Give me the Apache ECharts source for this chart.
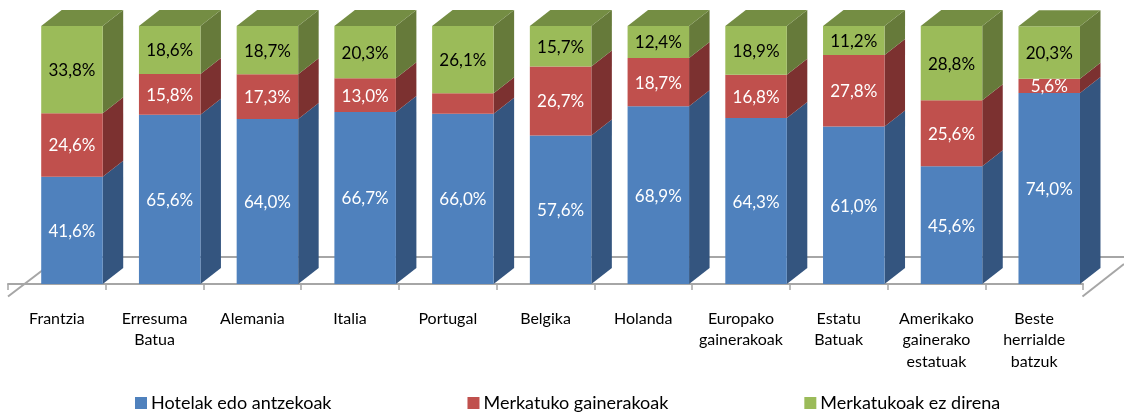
<!DOCTYPE html>
<html>
<head>
<meta charset="utf-8">
<style>html,body{margin:0;padding:0;background:#fff}#c{width:1124px;height:412px}</style>
<script src="https://cdn.jsdelivr.net/npm/echarts@6/dist/echarts.min.js"></script>
</head>
<body>
<div id="c"></div>
<script>
const categories = ['Frantzia','Erresuma\nBatua','Alemania','Italia','Portugal','Belgika','Holanda','Europako\ngainerakoak','Estatu\nBatuak','Amerikako\ngainerako\nestatuak','Beste\nherrialde\nbatzuk'];
const hotelak = [41.6,65.6,64.0,66.7,66.0,57.6,68.9,64.3,61.0,45.6,74.0];
const gainerakoak = [24.6,15.8,17.3,13.0,7.9,26.7,18.7,16.8,27.8,25.6,5.6];
const ezDirena = [33.8,18.6,18.7,20.3,26.1,15.7,12.4,18.9,11.2,28.8,20.3];
const unlabelled = ['1:4']; // series:category pairs with no printed label (Portugal, red)

const FONT = 'Lato, "Open Sans", sans-serif';
const DX = 20.5, DY = 16, SHIFT = 15.1, BAR_W = 61.5;

function stackSeries(name, idx, values, bases, colors, textColor, withTop) {
  return {
    type: 'custom',
    name,
    coordinateSystem: 'cartesian2d',
    itemStyle: { color: colors.front },
    z: 3,
    silent: true,
    data: values.map((v, i) => [i, bases[i], bases[i] + v, v]),
    encode: { x: 0, y: [1, 2] },
    renderItem(params, api) {
      const i = api.value(0);
      const pBase = api.coord([i, api.value(1)]);
      const pTop = api.coord([i, api.value(2)]);
      const x0 = pBase[0] + SHIFT - BAR_W / 2, x1 = x0 + BAR_W;
      const y0 = pBase[1], y1 = pTop[1];
      const children = [
        { type: 'polygon', shape: { points: [[x1, y0], [x1 + DX, y0 - DY], [x1 + DX, y1 - DY], [x1, y1]] }, style: { fill: colors.side } },
        { type: 'rect', shape: { x: x0, y: y1, width: BAR_W, height: y0 - y1 }, style: { fill: colors.front } }
      ];
      if (withTop) {
        children.push({ type: 'polygon', shape: { points: [[x0, y1], [x1, y1], [x1 + DX, y1 - DY], [x0 + DX, y1 - DY]] }, style: { fill: colors.top } });
      }
      if (!unlabelled.includes(idx + ':' + i)) {
        children.push({ type: 'text', z2: 10, style: {
          x: (x0 + x1) / 2, y: (y0 + y1) / 2 + 1, align: 'center', verticalAlign: 'middle',
          text: api.value(3).toFixed(1).replace('.', ',') + '%',
          fill: textColor, font: '17px ' + FONT } });
      }
      return { type: 'group', children };
    }
  };
}

const base2 = hotelak.map((v, i) => v + gainerakoak[i]);
const zeros = hotelak.map(() => 0);

const chart = echarts.init(document.getElementById('c'), null, { renderer: 'canvas' });
const LINE = '#a6a6a6';
chart.setOption({
  animation: false,
  backgroundColor: '#fff',
  grid: { left: 8, right: 41, top: 26, bottom: 128 },
  xAxis: {
    type: 'category', data: categories, offset: 13,
    axisLine: { lineStyle: { color: LINE, width: 2 } },
    axisTick: { show: true, length: 6, inside: false, alignWithLabel: false, lineStyle: { color: LINE, width: 1.5 } },
    axisLabel: { interval: 0, color: '#000', fontFamily: FONT, fontSize: 16, lineHeight: 21.5, margin: 11, hideOverlap: false },
    splitLine: { show: false }
  },
  yAxis: { type: 'value', min: 0, max: 100, show: false },
  legend: {
    left: 135, top: 394, itemWidth: 12, itemHeight: 12, itemGap: 136,
    textStyle: { color: '#000', fontFamily: FONT, fontSize: 18, padding: [0, 0, 0, -1] },
    icon: 'rect', padding: 0,
    data: ['Hotelak edo antzekoak', 'Merkatuko gainerakoak', 'Merkatukoak ez direna']
  },
  graphic: [
    { type: 'polyline', z: 0, shape: { points: [[8, 296.5], [60, 257], [1124, 257]] }, style: { stroke: LINE, lineWidth: 2, fill: null }, silent: true },
    { type: 'line', z: 0, shape: { x1: 1082.5, y1: 296.5, x2: 1124, y2: 264 }, style: { stroke: LINE, lineWidth: 2 }, silent: true }
  ],
  series: [
    stackSeries('Hotelak edo antzekoak', 0, hotelak, zeros, { front: '#4f81bd', side: '#34557f' }, '#fff', false),
    stackSeries('Merkatuko gainerakoak', 1, gainerakoak, hotelak, { front: '#c0504d', side: '#7c3130' }, '#fff', false),
    stackSeries('Merkatukoak ez direna', 2, ezDirena, base2, { front: '#9bbb59', side: '#667a3a', top: '#748d43' }, '#000', true)
  ]
});
</script>
</body>
</html>
